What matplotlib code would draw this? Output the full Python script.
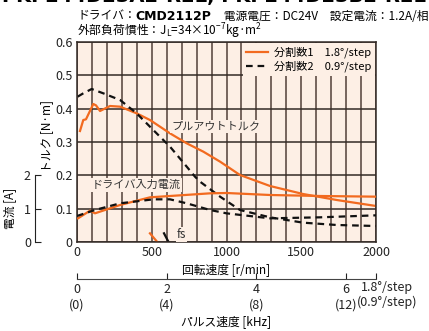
import matplotlib
matplotlib.use("Agg")
import matplotlib.pyplot as plt

plt.rcParams['font.family'] = ['Liberation Sans Narrow', 'Noto Sans CJK JP', 'DejaVu Sans']
plt.rcParams['mathtext.default'] = 'regular'

# Pull-out torque [N·m]
rpm_pt1 = [20, 42, 60, 109, 127, 154, 176, 221, 288, 399, 488, 622, 734, 845, 957, 1090, 1291, 1512, 1737, 2000]
trq_pt1 = [0.333, 0.366, 0.368, 0.414, 0.410, 0.393, 0.398, 0.408, 0.406, 0.386, 0.366, 0.326, 0.296, 0.271,
           0.241, 0.201, 0.168, 0.144, 0.126, 0.108]
rpm_pt2 = [4, 42, 98, 176, 288, 399, 510, 622, 734, 789, 823, 957, 1090, 1291, 1512, 1737, 2000]
trq_pt2 = [0.436, 0.446, 0.459, 0.446, 0.426, 0.386, 0.336, 0.286, 0.226, 0.196, 0.181, 0.136, 0.096, 0.074,
           0.058, 0.051, 0.048]

# Driver input current [A]
rpm_cur1 = [7, 87, 120, 288, 488, 622, 890, 1000, 1291, 1625, 2000]
amp_cur1 = [0.71, 0.94, 0.86, 1.11, 1.34, 1.38, 1.46, 1.47, 1.41, 1.38, 1.36]
rpm_cur2 = [0, 120, 288, 510, 622, 734, 890, 1000, 1291, 1625, 2000]
amp_cur2 = [0.78, 0.96, 1.16, 1.28, 1.28, 1.16, 0.96, 0.86, 0.71, 0.74, 0.80]

# Starting frequency markers
rpm_fs1 = [488, 535]
trq_fs1 = [0.026, 0.001]
rpm_fs2 = [582, 611]
trq_fs2 = [0.026, 0.001]

pulse_khz = [0, 2, 4, 6]
pulse_labels = ['0\n(0)', '2\n(4)', '4\n(8)', '6\n(12)']

orange = '#f26a1f'
bg = '#fdefe5'

fig = plt.figure(figsize=(4.29, 3.31), dpi=100)
ax = fig.add_axes([0.1795, 0.2689, 0.697, 0.6042])
ax.set_facecolor(bg)
ax.set_xlim(0, 2000)
ax.set_ylim(0, 0.6)
ax.set_xticks(range(0, 2001, 500))
ax.set_xticks(range(0, 2001, 100), minor=True)
ax.set_yticks([0, 0.1, 0.2, 0.3, 0.4, 0.5, 0.6])
ax.set_yticklabels(['0', '0.1', '0.2', '0.3', '0.4', '0.5', '0.6'])
ax.tick_params(which='both', length=0, labelsize=9, pad=3, colors='#222222')
ax.grid(True, which='both', axis='x', color='#6b5a52', lw=1.3)
ax.grid(True, which='major', axis='y', color='#332a26', lw=1.1)
ax.set_axisbelow(True)
for s in ax.spines.values():
    s.set_color('#332a26')
    s.set_linewidth(1.1)

ax.plot(rpm_pt1, trq_pt1, color=orange, lw=1.6, label='分割数1　1.8°/step')
ax.plot(rpm_pt2, trq_pt2, color='#111111', lw=1.6, ls=(0, (3, 2.2)), label='分割数2　0.9°/step')
ax.plot(rpm_fs1, trq_fs1, color=orange, lw=1.6)
ax.plot(rpm_fs2, trq_fs2, color='#111111', lw=1.6)

ax.set_xlabel('回転速度 [r/min]', fontsize=8.5, labelpad=3)
ax.set_ylabel('トルク [N·m]', fontsize=8.5, labelpad=2, y=0.53)

ax.text(633, 0.346, 'プルアウトトルク', fontsize=8, va='center', ha='left', color='#333333',
        bbox=dict(boxstyle='square,pad=0.15', fc=bg, ec='none'))
ax.text(98, 0.171, 'ドライバ入力電流', fontsize=8, va='center', ha='left', color='#333333',
        bbox=dict(boxstyle='square,pad=0.15', fc=bg, ec='none'))
ax.text(667, 0.022, 'fs', fontsize=8.5, va='center', ha='left', color='#333333',
        bbox=dict(boxstyle='square,pad=0.1', fc=bg, ec='none'))

leg = ax.legend(loc='upper right', fontsize=8, frameon=True, fancybox=False, borderaxespad=0.1,
                handlelength=1.9, handletextpad=0.6, labelspacing=0.25, borderpad=0.3)
leg.get_frame().set_facecolor(bg)
leg.get_frame().set_edgecolor('none')
leg.get_frame().set_alpha(1)

# current axis
ax2 = ax.twinx()
ax2.set_ylim(0, 6)
ax2.plot(rpm_cur1, amp_cur1, color=orange, lw=1.6)
ax2.plot(rpm_cur2, amp_cur2, color='#111111', lw=1.6, ls=(0, (3, 2.2)))
ax2.yaxis.set_ticks_position('left')
ax2.yaxis.set_label_position('left')
ax2.spines['left'].set_position(('axes', -0.14))
ax2.spines['left'].set_bounds(0, 2)
ax2.spines['left'].set_visible(True)
ax2.spines['left'].set_color('#222222')
for k in ['right', 'top', 'bottom']:
    ax2.spines[k].set_visible(False)
ax2.set_yticks([0, 1, 2])
ax2.tick_params(axis='y', direction='in', length=4, labelsize=9, pad=3, colors='#222222')
ax2.set_ylabel('電流 [A]', fontsize=8.5, labelpad=5)
ax2.yaxis.set_label_coords(-0.205, 1 / 6)

# pulse speed axis
sec = ax.secondary_xaxis(-0.185, functions=(lambda r: r / 300, lambda k: k * 300))
sec.set_xticks(pulse_khz + [2000 / 300])
sec.set_xticklabels(pulse_labels + [''])
sec.tick_params(direction='in', length=4, labelsize=9, pad=3, colors='#222222')
sec.spines['bottom'].set_color('#444444')
sec.set_xlabel('パルス速度 [kHz]', fontsize=8.5, labelpad=3)
ax.text(2073, -0.159, '1.8°/step\n(0.9°/step)', fontsize=9, ha='center', va='center',
        color='#222222', clip_on=False)

# header
fig.text(0.5, 1.012, 'PKP244D23A2-R2L, PKP244D23B2-R2L', ha='center', va='center',
         fontsize=14, fontweight='bold', family='DejaVu Sans')
fig.canvas.draw()
r = fig.canvas.get_renderer()
x0 = 77 / 429
y0 = 1 - 16 / 331
t1 = fig.text(x0, y0, 'ドライバ：', fontsize=8.5, va='center')
w1 = t1.get_window_extent(r).width / 429
t2 = fig.text(x0 + w1, y0, 'CMD2112P', fontsize=9, va='center', fontweight='bold', family='DejaVu Sans')
w2 = t2.get_window_extent(r).width / 429
fig.text(x0 + w1 + w2, y0, '　電源電圧：DC24V　設定電流：1.2A/相', fontsize=8.5, va='center')
fig.text(x0, 1 - 31 / 331, '外部負荷慣性：J$_L$=34×10$^{-7}$kg·m$^2$', fontsize=8.5, va='center')

fig.savefig('out.png', dpi=100)
